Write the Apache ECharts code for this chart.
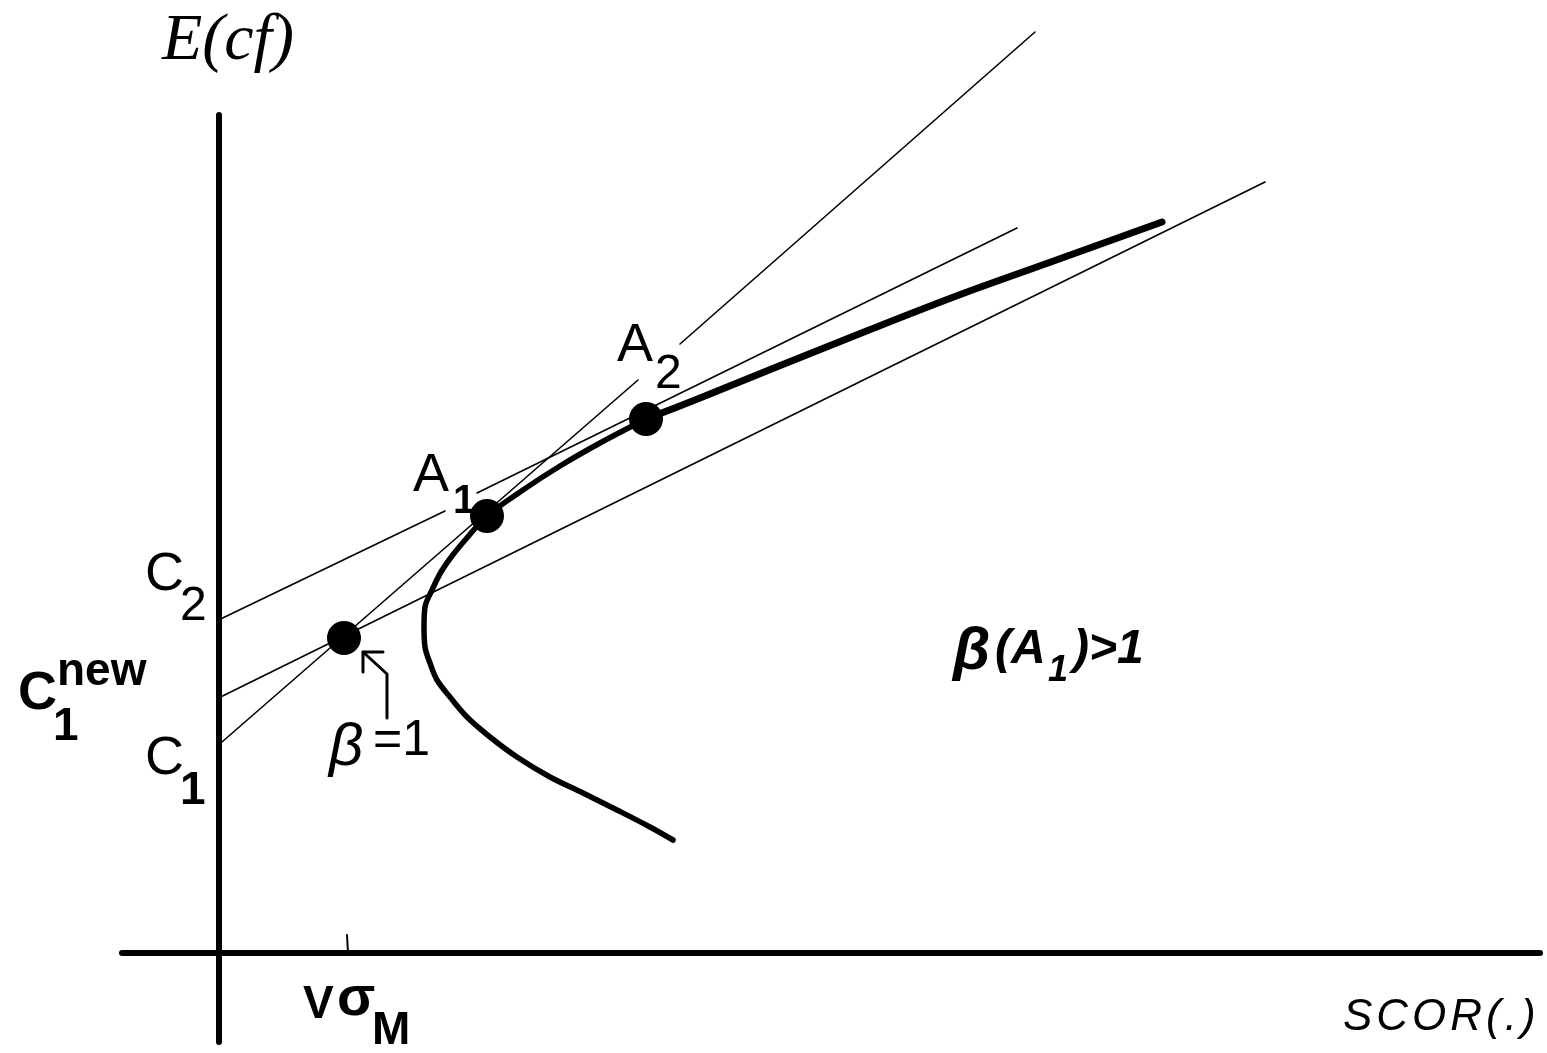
<!DOCTYPE html>
<html>
<head>
<meta charset="utf-8">
<title>E(cf) vs SCOR(.)</title>
<script src="https://cdn.jsdelivr.net/npm/echarts@6/dist/echarts.min.js"></script>
<style>
  html, body { margin: 0; padding: 0; background: #fff; }
  #chart { width: 1547px; height: 1053px; }
</style>
</head>
<body>
<div id="chart"></div>
<script>
// ---- values (axis units: SCOR on x, E(cf) on y) ----
const interceptC1 = 2.08;
const interceptC1new = 2.55;
const interceptC2 = 3.33;

const pointBeta1 = [1.255, 3.15];
const pointA1 = [2.685, 4.37];
const pointA2 = [4.275, 5.34];
const vSigmaM = 1.285;

// lower branch of the frontier, from its bottom end up to A2
const frontierLower = [
  [4.545, 1.13], [4.315, 1.26], [3.985, 1.43], [3.645, 1.60], [3.315, 1.76],
  [2.985, 1.96], [2.715, 2.16], [2.485, 2.36], [2.315, 2.56], [2.185, 2.73],
  [2.115, 2.90], [2.065, 3.06], [2.055, 3.26], [2.065, 3.46], [2.135, 3.63],
  [2.225, 3.81], [2.335, 3.97], [2.475, 4.14], [2.685, 4.37], [3.015, 4.61],
  [3.415, 4.87], [3.815, 5.10], [4.275, 5.34]
];
// upper branch, from A2 onwards
const frontierUpper = [
  [4.275, 5.34], [4.815, 5.55], [5.605, 5.87], [6.505, 6.23],
  [7.405, 6.58], [8.295, 6.90], [9.435, 7.31]
];

// straight lines from the intercepts (split where labels sit on them)
const lineC1a = [[0, interceptC1], [4.195, 5.73]];
const lineC1b = [[4.615, 6.09], [8.165, 9.21]];
const lineC1new = [[0, interceptC1new], [10.465, 7.71]];
const lineC2a = [[0, interceptC2], [2.265, 4.42]];
const lineC2b = [[2.585, 4.60], [7.985, 7.25]];

// pointer from the β=1 note to its point
const arrowShaft = [[1.685, 2.35], [1.685, 2.79], [1.445, 3.01]];
const arrowHead = [[1.645, 3.01], [1.445, 3.01], [1.445, 2.81]];
const tickMark = [[vSigmaM, 0.18], [vSigmaM + 0.01, 0]];

// ---- text ----
const fonts = {
  axisY:  { fontFamily: 'Liberation Serif', fontStyle: 'italic', fontSize: 66 },
  big:    { fontFamily: 'Liberation Sans', fontSize: 54 },
  sub:    { fontFamily: 'Liberation Sans', fontSize: 48 },
  subB:   { fontFamily: 'Liberation Sans', fontWeight: 'bold', fontSize: 46 },
  subA:   { fontFamily: 'Liberation Sans', fontWeight: 'bold', fontSize: 40 },
  bigB:   { fontFamily: 'Liberation Sans', fontWeight: 'bold', fontSize: 54 },
  greek:  { fontFamily: 'Liberation Sans', fontStyle: 'italic', fontSize: 60 },
  eq:     { fontFamily: 'Liberation Sans', fontSize: 50 },
  noteB:  { fontFamily: 'Liberation Sans', fontStyle: 'italic', fontWeight: 'bold', fontSize: 60 },
  note:   { fontFamily: 'Liberation Sans', fontStyle: 'italic', fontWeight: 'bold', fontSize: 48 },
  noteSub:{ fontFamily: 'Liberation Sans', fontStyle: 'italic', fontWeight: 'bold', fontSize: 36 },
  sigma:  { fontFamily: 'Liberation Sans', fontWeight: 'bold', fontSize: 56 }
};

// x-axis name, drawn with a little extra space between letters
const xAxisName = 'SCOR(.)';
const xAxisNameLabel = {
  formatter: xAxisName.split('').map(function (c) { return '{l|' + c + '}'; }).join(''),
  rich: {
    l: { fontFamily: 'Liberation Sans', fontStyle: 'italic', fontSize: 44, color: '#000', padding: [0, 4, 0, 0] }
  }
};

const annotations = [
  ['E(cf)', -0.565, 9.11, 'axisY'],
  ['C', -0.735, 3.78, 'big'], ['2', -0.385, 3.46, 'sub'],
  ['C', -2.005, 2.59, 'bigB'], ['new', -1.615, 2.81, 'subB'], ['1', -1.655, 2.26, 'subB'],
  ['C', -0.735, 1.94, 'big'], ['1', -0.385, 1.62, 'subB'],
  ['β', 1.105, 2.05, 'greek'], ['=1', 1.545, 2.12, 'eq'],
  ['A', 1.945, 4.77, 'big'], ['1', 2.345, 4.51, 'subA'],
  ['A', 3.985, 6.07, 'big'], ['2', 4.365, 5.78, 'sub'],
  ['β', 7.345, 3.01, 'noteB'], ['(A', 7.765, 3.03, 'note'], ['1', 8.295, 2.82, 'noteSub'], [')>1', 8.545, 3.03, 'note'],
  ['V', 0.845, -0.52, 'subB'], ['σ', 1.185, -0.47, 'sigma'], ['M', 1.535, -0.78, 'subB']
];

// ---- chart ----
const chart = echarts.init(document.getElementById('chart'), null, { renderer: 'canvas' });

function lineSeries(data, width, smooth) {
  return {
    type: 'line', data: data, clip: false, silent: true, animation: false,
    symbol: 'none', smooth: smooth || false,
    lineStyle: { color: '#000', width: width, opacity: 1, cap: 'round', join: 'round' }
  };
}

function textItem(value, style) {
  return {
    value: value,
    label: Object.assign({
      show: true, position: 'inside', align: 'left', verticalAlign: 'middle',
      color: '#000', opacity: 1
    }, style)
  };
}

const labelData = annotations.map(function (a) {
  return textItem([a[1], a[2]], Object.assign({ formatter: a[0] }, fonts[a[3]]));
});
labelData.push(textItem([11.245, -0.65], xAxisNameLabel));

const series = [
  lineSeries(lineC1a, 1.6), lineSeries(lineC1b, 1.6),
  lineSeries(lineC1new, 1.6),
  lineSeries(lineC2a, 1.6), lineSeries(lineC2b, 1.6),
  lineSeries(frontierLower, 5.5, 0.35),
  lineSeries(frontierUpper, 7, 0.3),
  lineSeries(arrowShaft, 3), lineSeries(arrowHead, 3),
  lineSeries(tickMark, 2),
  {
    type: 'scatter', clip: false, silent: true, animation: false,
    symbol: 'circle', symbolSize: 34,
    itemStyle: { color: '#000', opacity: 1 },
    data: [pointBeta1, pointA1, pointA2]
  },
  {
    type: 'scatter', clip: false, silent: true, animation: false,
    symbol: 'circle', symbolSize: 1,
    itemStyle: { color: 'rgba(0,0,0,0)', opacity: 1 },
    data: labelData
  }
];

chart.setOption({
  backgroundColor: '#fff',
  animation: false,
  grid: { left: 122, right: 7, top: 115, bottom: 11, containLabel: false },
  xAxis: {
    type: 'value', min: -0.965, max: 13.215,
    axisLine: { onZero: true, lineStyle: { color: '#000', width: 6 } },
    axisTick: { show: false }, axisLabel: { show: false }, splitLine: { show: false }
  },
  yAxis: {
    type: 'value', min: -0.89, max: 8.38,
    axisLine: { onZero: true, lineStyle: { color: '#000', width: 6 } },
    axisTick: { show: false }, axisLabel: { show: false }, splitLine: { show: false }
  },
  series: series
});
</script>
</body>
</html>
